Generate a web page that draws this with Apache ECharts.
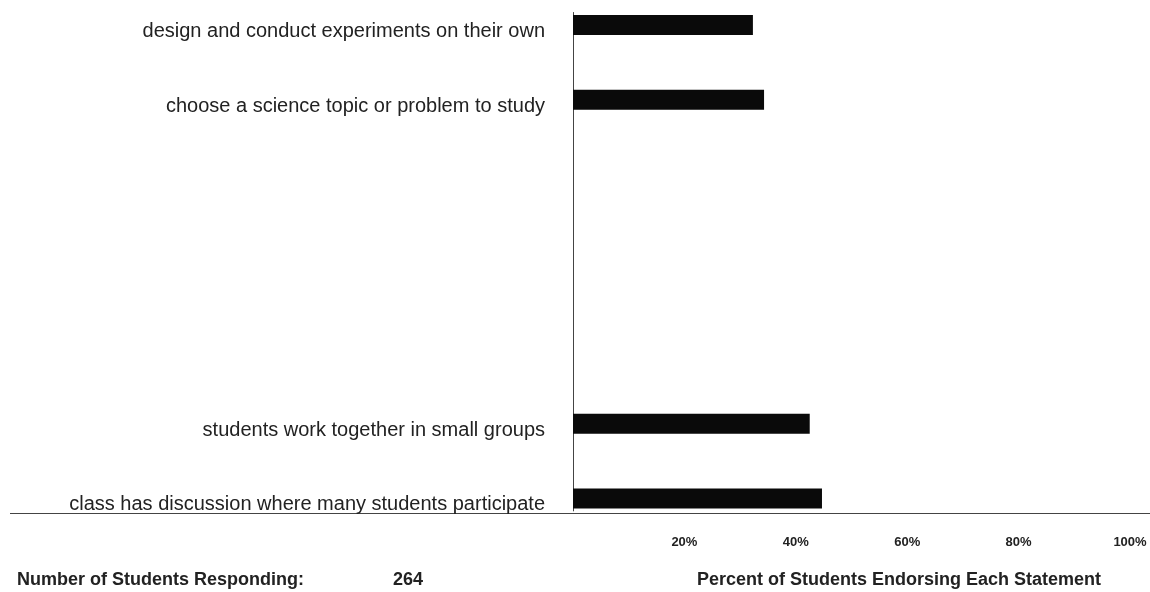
<!DOCTYPE html>
<html>
<head>
<meta charset="utf-8">
<script src="https://cdn.jsdelivr.net/npm/echarts@6/dist/echarts.min.js"></script>
<style>html,body{margin:0;padding:0;background:#fff;}#c{width:1150px;height:592px;}</style>
</head>
<body>
<div id="c"></div>
<script>
// Data
const categories = [
  "design and conduct experiments on their own",
  "choose a science topic or problem to study",
  "students work together in small groups",
  "class has discussion where many students participate"
];
const values = [32.3, 34.3, 42.5, 44.7];
const tickLabels = ["", "20%", "40%", "60%", "80%", "100%"];
const respondents = 264;
const xTitle = "Percent of Students Endorsing Each Statement";
const nTitle = "Number of Students Responding:";

// Layout: statements sit in slots of a 20-slot category band
const slotIndex = [0, 3, 16, 19];
const nSlots = 20;
const axisCats = [];
const axisVals = [];
for (let i = 0; i < nSlots; i++) { axisCats.push(""); axisVals.push(null); }
slotIndex.forEach((s, k) => { axisCats[s] = categories[k]; axisVals[s] = values[k]; });

const chart = echarts.init(document.getElementById('c'), null, {renderer: 'canvas'});
chart.setOption({
  animation: false,
  backgroundColor: '#fff',
  textStyle: {fontFamily: 'Liberation Sans, Arial, sans-serif'},
  grid: {left: 573, right: 20, top: 12.5, height: 498.4, containLabel: false},
  xAxis: {
    type: 'value', min: 0, max: 100, interval: 20,
    axisLine: {show: false}, axisTick: {show: false}, splitLine: {show: false},
    axisLabel: {
      margin: 25, color: '#222', fontWeight: 'bold', fontSize: 13,
      formatter: v => tickLabels[Math.round(v / 20)]
    }
  },
  yAxis: {
    type: 'category', data: axisCats, inverse: true,
    axisLine: {show: true, lineStyle: {color: '#444', width: 1}},
    axisTick: {show: false}, splitLine: {show: false},
    axisLabel: {
      margin: 28, interval: 0,
      formatter: v => v ? '{t|' + v + '}' : '',
      rich: {t: {color: '#222', fontSize: 20, padding: [13, 0, 0, 0]}}
    }
  },
  series: [{
    type: 'bar', data: axisVals, barWidth: 20,
    itemStyle: {color: '#0a0a0a'}
  }],
  title: [
    {text: nTitle, left: 12, top: 566, textStyle: {fontSize: 18, fontWeight: 'bold', color: '#222'}},
    {text: String(respondents), left: 388, top: 566, textStyle: {fontSize: 18, fontWeight: 'bold', color: '#222'}},
    {text: xTitle, left: 894, textAlign: 'center', top: 566, textStyle: {fontSize: 18, fontWeight: 'bold', color: '#222'}}
  ],
  graphic: [{
    type: 'line', shape: {x1: 10, y1: 513.5, x2: 1150, y2: 513.5},
    style: {stroke: '#444', lineWidth: 1}, silent: true
  }]
});
</script>
</body>
</html>
